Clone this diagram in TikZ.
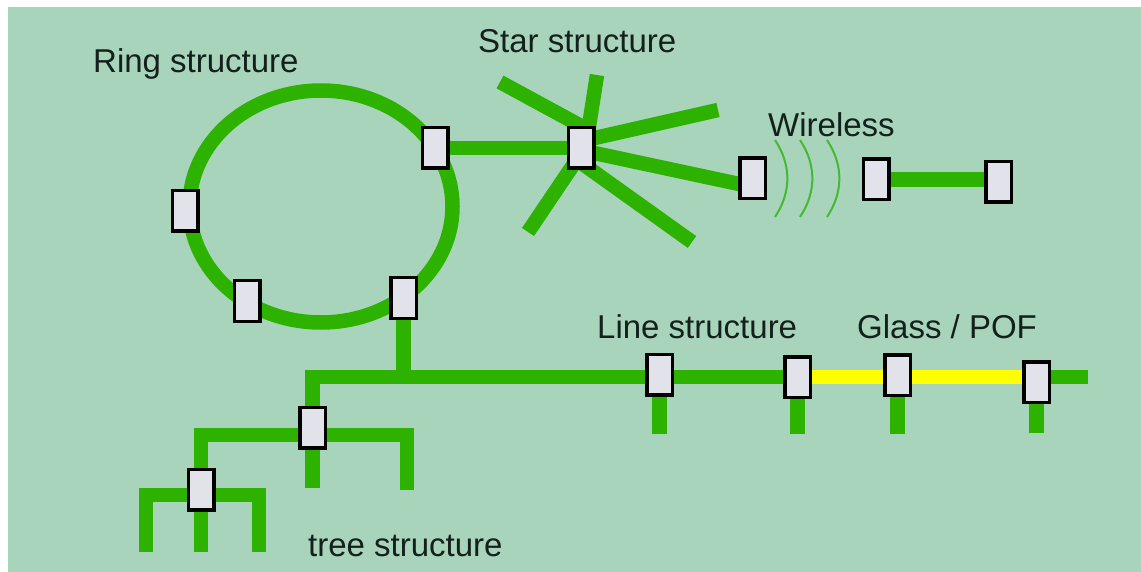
\documentclass[tikz,border=0pt]{standalone}
\usepackage{fontspec}
\setmainfont{Liberation Sans}
\usetikzlibrary{backgrounds,calc}
\definecolor{bgmint}{RGB}{168,212,188}
\definecolor{wiregreen}{RGB}{46,178,0}
\definecolor{fibre}{RGB}{255,255,0}
\definecolor{boxfill}{RGB}{226,226,234}
\definecolor{txt}{RGB}{20,32,26}
\definecolor{wave}{RGB}{70,185,50}
\begin{document}
\begin{tikzpicture}[x=1pt,y=-1pt,
  station/.style={draw=black,line width=3.5pt,fill=boxfill,minimum width=25.5pt,minimum height=40.5pt,inner sep=0pt},
  wire/.style={draw=wiregreen,line width=14.5pt},
  fibreline/.style={draw=fibre,line width=14.5pt},
  radio/.style={draw=wave,line width=2pt},
  lbl/.style={anchor=base west,inner sep=0pt,text=txt,font=\fontsize{33}{40}\selectfont}]
\useasboundingbox (0,0) rectangle (1141,572);

% stations
\node[station] (r1) at (435,148) {};
\node[station] (r2) at (185,211) {};
\node[station] (r3) at (247,301) {};
\node[station] (r4) at (403.5,298) {};
\node[station] (star) at (581,148) {};
\node[station] (w1) at (752.5,178.5) {};
\node[station] (w2) at (876,179.5) {};
\node[station] (w3) at (998.5,182) {};
\node[station] (l1) at (659.5,374.5) {};
\node[station] (l2) at (797.5,377) {};
\node[station] (l3) at (897.5,375) {};
\node[station] (l4) at (1036.5,382) {};
\node[station] (t1) at (312.5,427.5) {};
\node[station] (t2) at (201,489.5) {};

% free ends
\coordinate (eUL) at (500,82);
\coordinate (eUP) at (597,75);
\coordinate (eUR) at (718,110);
\coordinate (eDR) at (692,242);
\coordinate (eDL) at (528,232);
\coordinate (mainEnd) at (1088,377);
\coordinate (d1) at (660,434);
\coordinate (d2) at (798,434);
\coordinate (d3) at (899,434);
\coordinate (d4) at (1037,433);
\coordinate (tJ) at (312,435);
\coordinate (tRend) at (407,490);
\coordinate (tMend) at (312,488);
\coordinate (tH) at (201,495);
\coordinate (tLL) at (146,552);
\coordinate (tLM) at (199,552);
\coordinate (tLR) at (259,552);

% labels
\node[lbl] (ringlbl) at (93,73) {Ring structure};
\node[lbl] (starlbl) at (478,53) {Star structure};
\node[lbl] (wirelbl) at (768,137) {Wireless};
\node[lbl] (linelbl) at (597,338) {Line structure};
\node[lbl] (glasslbl) at (857,338) {Glass / POF};
\node[lbl] (treelbl) at (308,556) {tree structure};

\begin{pgfonlayer}{background}
\fill[bgmint] (8,7) rectangle (1141,572);
% ring
\draw[wire] (321,206.5) ellipse [x radius=131.5pt, y radius=116pt];
\draw[wire] (r1.center) -- (star.center);
% star rays
\draw[wire] (eUL) -- ($(eUL)!1.12!(star.north)$);
\draw[wire] (eUP) -- ($(eUP)!1.15!(star.70)$);
\draw[wire] (eUR) -- ($(eUR)!1.08!(star.35)$);
\draw[wire] (eDR) -- ($(eDR)!1.1!(star.-65)$);
\draw[wire] (eDL) -- ($(eDL)!1.15!(star.-117)$);
\draw[wire] ($(star.-20)!-0.06!(w1.-160)$) -- ($(star.-20)!1.06!(w1.-160)$);
% wireless link
\draw[wire] (w2.center) -- (w2.center -| w3.center);
% main line
\draw[wire] (r4.center) -- (r4.center |- mainEnd);
\draw[wire] (t1.center) |- (mainEnd);
\draw[fibreline] (l2.center) -- (l2.center -| l4.center);
\draw[wire] (l1.center) -- (l1.center |- d1);
\draw[wire] (l2.center) -- (l2.center |- d2);
\draw[wire] (l3.center) -- (l3.center |- d3);
\draw[wire] (l4.center) -- (l4.center |- d4);
% tree
\draw[wire] (t2.center) |- (tJ) -| (tRend);
\draw[wire] (t1.center) -- (t1.center |- tMend);
\draw[wire] (tLL) |- (tH) -| (tLR);
\draw[wire] (t2.center) -- (t2.center |- tLM);
\end{pgfonlayer}

% radio waves
\foreach \wx in {775,800,827}{
  \draw[radio] (\wx,140) .. controls (\wx+16.5,165) and (\wx+16.5,192) .. (\wx,217);
}
\end{tikzpicture}
\end{document}
